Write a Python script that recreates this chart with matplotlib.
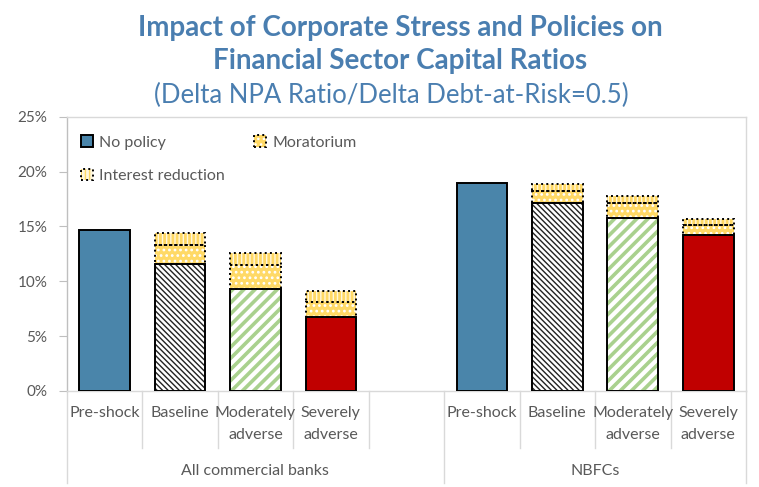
import matplotlib
matplotlib.use("Agg")
import matplotlib.pyplot as plt
from matplotlib.patches import Patch
from matplotlib.legend_handler import HandlerTuple
import matplotlib.transforms as mtransforms

plt.rcParams['font.family'] = ['Lato', 'DejaVu Sans']

# ---- data (capital ratio, %) ----
groups = ["All commercial banks", "NBFCs"]
scenarios = ["Pre-shock", "Baseline", "Moderately\nadverse", "Severely\nadverse"]
# capital ratio without policy support
banks_no_policy = [14.7, 11.6, 9.3, 6.7]
nbfc_no_policy = [19.0, 17.15, 15.8, 14.2]
# additional gain from moratorium
banks_moratorium = [0.0, 1.75, 2.2, 1.45]
nbfc_moratorium = [0.0, 1.05, 1.3, 0.9]
# additional gain from interest reduction
banks_interest = [0.0, 1.05, 1.1, 0.95]
nbfc_interest = [0.0, 0.7, 0.7, 0.6]
y_ticks = [0, 5, 10, 15, 20, 25]

TEXT = '#595959'
GRID = '#D9D9D9'
TITLE = '#4A7EB0'
BLUE = '#4A85AA'
RED = '#C00000'
GREEN = '#A9D18E'
YELLOW = '#FFD966'

fig = plt.figure(figsize=(7.59, 4.87), dpi=100)
W, H = 759, 487
x0, x1, y0, y1 = 66.7, 746, 391, 116.7
ax = fig.add_axes([x0 / W, (H - y0) / H, (x1 - x0) / W, (y0 - y1) / H])

bw = 0.67
# base-bar styles per scenario: (face, hatch, hatch colour, hatch width)
base_styles = [
    (BLUE, None, None, 1.0),
    ('white', '\\\\\\\\\\\\', '#222222', 1.0),
    ('white', '///', GREEN, 2.6),
    (RED, None, None, 1.0),
]


def hatched_bar(x, h, bottom, face, hatch, hcolor, lw_hatch, ls):
    if hatch:
        with plt.rc_context({'hatch.linewidth': lw_hatch}):
            ax.bar(x, h, bw, bottom=bottom, color=face, hatch=hatch,
                   edgecolor=hcolor, linewidth=0, zorder=2)
    else:
        ax.bar(x, h, bw, bottom=bottom, color=face, linewidth=0, zorder=2)
    ax.bar(x, h, bw, bottom=bottom, fill=False, edgecolor='black',
           linewidth=1.4, linestyle=ls, zorder=3)


positions = [[0, 1, 2, 3], [5, 6, 7, 8]]
series = [(banks_no_policy, banks_moratorium, banks_interest),
          (nbfc_no_policy, nbfc_moratorium, nbfc_interest)]
for pos, (base, mor, intr) in zip(positions, series):
    for i, x in enumerate(pos):
        face, hatch, hc, hlw = base_styles[i]
        hatched_bar(x, base[i], 0, face, hatch, hc, hlw, '-')
        if mor[i] > 0:
            hatched_bar(x, mor[i], base[i], YELLOW, '...', 'white', 1.2, ':')
        if intr[i] > 0:
            hatched_bar(x, intr[i], base[i] + mor[i], '#FFF7DD', '||||',
                        YELLOW, 2.0, ':')

ax.set_xlim(-0.5, 8.5)
ax.set_ylim(0, 25)
ax.set_yticks(y_ticks)
ax.set_yticklabels([f"{t}%" for t in y_ticks], color=TEXT, fontsize=11)
ax.set_xticks([])
ax.tick_params(axis='y', direction='out', length=6, color='#BFBFBF', pad=8)
for side in ['top', 'right', 'bottom']:
    ax.spines[side].set_color(GRID)
ax.spines['left'].set_color('#BFBFBF')
for s in ax.spines.values():
    s.set_linewidth(1.0)

# two-level category axis
trans = mtransforms.blended_transform_factory(ax.transData, ax.transAxes)
px = 1.0 / (y0 - y1)
for b in [0.5, 1.5, 2.5, 3.5, 5.5, 6.5, 7.5]:
    ax.plot([b, b], [0, -57 * px], transform=trans, color=GRID, lw=1.0,
            clip_on=False)
for b in [-0.5, 4.5, 8.5]:
    ax.plot([b, b], [0, -92 * px], transform=trans, color=GRID, lw=1.0,
            clip_on=False)
for pos in positions:
    for x, lab in zip(pos, scenarios):
        ax.text(x, -15 * px, lab, transform=trans, ha='center', va='top',
                color=TEXT, fontsize=11.5, linespacing=1.75)
ax.text(2.0, -80 * px, groups[0], transform=trans, ha='center', va='center',
        color=TEXT, fontsize=11.5)
ax.text(6.5, -80 * px, groups[1], transform=trans, ha='center', va='center',
        color=TEXT, fontsize=11.5)

# legend
h_np = Patch(facecolor=BLUE, edgecolor='black', linewidth=1.4)
with plt.rc_context({'hatch.linewidth': 1.2}):
    h_mor = (Patch(facecolor=YELLOW, hatch='...', edgecolor='white', linewidth=0),
             Patch(fill=False, edgecolor='black', linestyle=':', linewidth=1.4))
with plt.rc_context({'hatch.linewidth': 2.0}):
    h_int = (Patch(facecolor='#FFF7DD', hatch='||||', edgecolor=YELLOW, linewidth=0),
             Patch(fill=False, edgecolor='black', linestyle=':', linewidth=1.4))
leg = ax.legend([h_np, h_int, h_mor],
                ["No policy", "Interest reduction", "Moratorium"],
                ncol=2, loc='upper left', bbox_to_anchor=(0.0, 0.985),
                frameon=False, fontsize=11.5, labelcolor=TEXT,
                handlelength=0.75, handleheight=0.75, handletextpad=0.4,
                labelspacing=1.2, columnspacing=1.8,
                handler_map={tuple: HandlerTuple(ndivide=1, pad=0)})

# title
fig.text(0.527, 1 - 28 / H, "Impact of Corporate Stress and Policies on",
         ha='center', va='center', fontsize=20, fontweight='bold', color=TITLE)
fig.text(0.527, 1 - 61 / H, "Financial Sector Capital Ratios",
         ha='center', va='center', fontsize=20, fontweight='bold', color=TITLE)
fig.text(0.515, 1 - 95 / H, "(Delta NPA Ratio/Delta Debt-at-Risk=0.5)",
         ha='center', va='center', fontsize=18.5, color=TITLE)

fig.savefig("out.png", dpi=100)
